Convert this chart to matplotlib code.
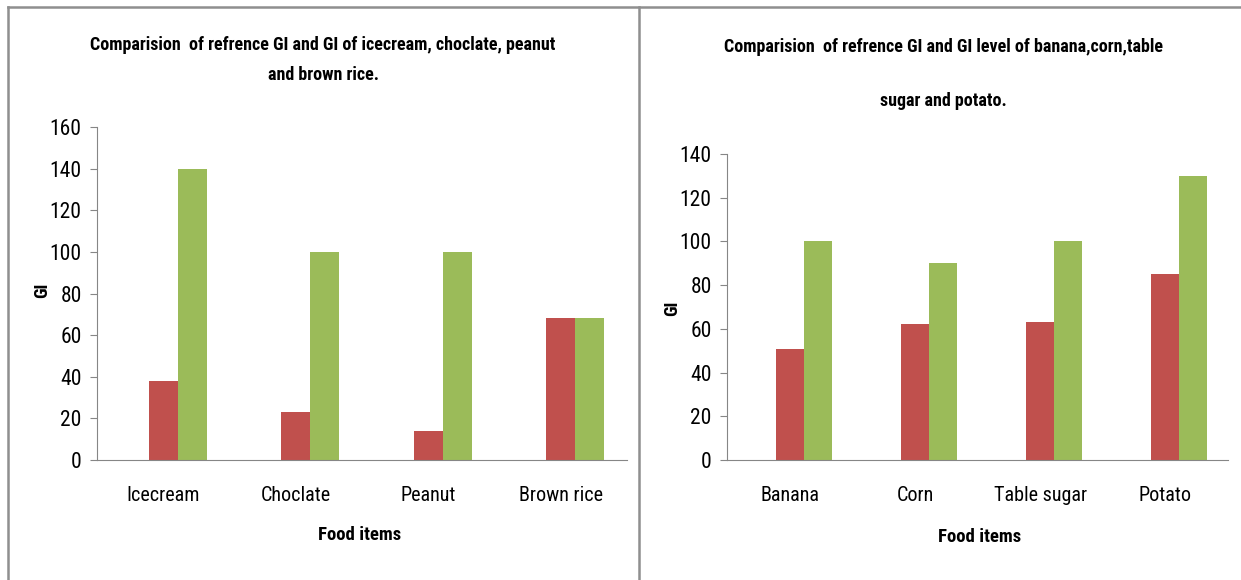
import matplotlib
matplotlib.use("Agg")
import matplotlib.pyplot as plt
from matplotlib import font_manager
from matplotlib.lines import Line2D
import numpy as np

# fuente estrecha tipo Calibri, si existe
names = {f.name for f in font_manager.fontManager.ttflist}
fam = "DejaVu Sans"
for n in ["Roboto Condensed", "Open Sans Condensed", "Asap Condensed", "Liberation Sans Narrow", "Lato"]:
    if n in names:
        fam = n
        break
plt.rcParams["font.family"] = [fam, "DejaVu Sans"]

# datos
foods1 = ["Icecream", "Choclate", "Peanut", "Brown rice"]
ref_gi1 = [38, 23, 14, 68]
gi1 = [140, 100, 100, 68]

foods2 = ["Banana", "Corn", "Table sugar", "Potato"]
ref_gi2 = [51, 62, 63, 85]
gi2 = [100, 90, 100, 130]

red = "#C0504D"
green = "#9BBB59"
gray = "#868686"

fig = plt.figure(figsize=(12.41, 5.8), dpi=100)

def bar_chart(ax, foods, ref, gi, ymax, w):
    x = np.arange(len(foods))
    ax.bar(x, ref, w, color=red)
    ax.bar(x + w, gi, w, color=green)
    ax.set_xlim(-0.5, len(foods) - 0.5)
    ax.set_ylim(0, ymax)
    ax.set_yticks(range(0, ymax + 1, 20))
    ax.set_xticks(x)
    ax.set_xticklabels(foods)
    for s in ["top", "right"]:
        ax.spines[s].set_visible(False)
    ax.spines["left"].set_color(gray)
    ax.spines["bottom"].set_color(gray)
    ax.tick_params(axis="y", colors=gray, labelcolor="black", length=5, labelsize=15.5, pad=6)
    ax.tick_params(axis="x", length=0, labelsize=14.5, pad=19)

ax1 = fig.add_axes([97 / 1241, 1 - 460 / 580, 530 / 1241, 333 / 580])
bar_chart(ax1, foods1, ref_gi1, gi1, 160, 0.22)
ax2 = fig.add_axes([727 / 1241, 1 - 460 / 580, 501 / 1241, 306 / 580])
bar_chart(ax2, foods2, ref_gi2, gi2, 140, 0.224)

# titulos
fig.text(323 / 1241, 1 - 45 / 580, "Comparision  of refrence GI and GI of icecream, choclate, peanut",
         ha="center", va="center", fontsize=13, fontweight="bold")
fig.text(323 / 1241, 1 - 75 / 580, "and brown rice.", ha="center", va="center", fontsize=13, fontweight="bold")
fig.text(943 / 1241, 1 - 47 / 580, "Comparision  of refrence GI and GI level of banana,corn,table",
         ha="center", va="center", fontsize=13, fontweight="bold")
fig.text(943 / 1241, 1 - 101 / 580, "sugar and potato.", ha="center", va="center", fontsize=13, fontweight="bold")

fig.text(42 / 1241, 1 - 290 / 580, "GI", rotation=90, ha="center", va="center", fontsize=13, fontweight="bold")
fig.text(672 / 1241, 1 - 308 / 580, "GI", rotation=90, ha="center", va="center", fontsize=13, fontweight="bold")
fig.text(360 / 1241, 1 - 535 / 580, "Food items", ha="center", va="center", fontsize=13.5, fontweight="bold")
fig.text(980 / 1241, 1 - 537 / 580, "Food items", ha="center", va="center", fontsize=13.5, fontweight="bold")

# bordes
bc = "#8F8F8F"
fig.add_artist(Line2D([8 / 1241, 1], [1 - 7 / 580] * 2, color=bc, lw=1.8, transform=fig.transFigure))
fig.add_artist(Line2D([8 / 1241] * 2, [0, 1 - 7 / 580], color=bc, lw=1.8, transform=fig.transFigure))
fig.add_artist(Line2D([639 / 1241] * 2, [0, 1 - 7 / 580], color=bc, lw=1.8, transform=fig.transFigure))

fig.savefig("out.png", dpi=100)
